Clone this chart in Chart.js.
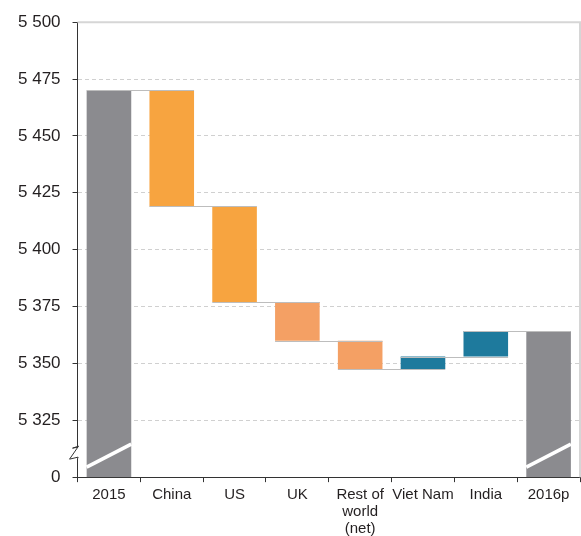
<!DOCTYPE html>
<html>
<head>
<meta charset="utf-8">
<script src="https://cdn.jsdelivr.net/npm/chart.js@4.4.1/dist/chart.umd.min.js"></script>
<style>
  html, body { margin: 0; padding: 0; background: #fff; }
  #wrap { width: 581px; height: 536px; }
</style>
</head>
<body>
<div id="wrap"><canvas id="chart"></canvas></div>
<script>
// waterfall: 2015 -> 2016p, broken y axis (bottom tick is 0)
const categories = ["2015", "China", "US", "UK", ["Rest of", "world", "(net)"], "Viet Nam", "India", "2016p"];
const barLow  = [5300, 5419, 5377, 5360, 5347.5, 5347.5, 5353, 5300];
const barHigh = [5470, 5470, 5419, 5377, 5360, 5353, 5364.3, 5364.3];
const barColors = ["#8b8b8f", "#f7a440", "#f7a440", "#f4a064", "#f4a064", "#1e7a9d", "#1e7a9d", "#8b8b8f"];
const yTicks = [5300, 5325, 5350, 5375, 5400, 5425, 5450, 5475, 5500];
const brokenBars = [0, 7];

function fmt(v) {
  if (v === 5300) return "0";
  const s = String(v);
  return s.slice(0, s.length - 3) + " " + s.slice(-3);
}

// connector lines, break marks on totals, zigzag on the axis, frame
const waterfallExtras = {
  id: "waterfallExtras",
  afterDatasetsDraw(chart) {
    const ctx = chart.ctx;
    const meta = chart.getDatasetMeta(0);
    const y = chart.scales.y;
    const area = chart.chartArea;
    ctx.save();

    // connectors
    ctx.strokeStyle = "#bdbdbd";
    ctx.lineWidth = 1.2;
    for (let i = 0; i < meta.data.length - 1; i++) {
      const a = meta.data[i], b = meta.data[i + 1];
      const lvl = (i === 0) ? barHigh[0] : (barHigh[i + 1] === barHigh[i] || barHigh[i + 1] === barLow[i] ? barHigh[i + 1] : barLow[i + 1]);
      const py = Math.round(y.getPixelForValue(lvl)) + 0.5;
      ctx.beginPath();
      ctx.moveTo(a.x - a.width / 2, py);
      ctx.lineTo(b.x + b.width / 2, py);
      ctx.stroke();
    }

    // white break lines through total bars
    ctx.strokeStyle = "#ffffff";
    ctx.lineWidth = 3.5;
    brokenBars.forEach((i) => {
      const el = meta.data[i];
      ctx.beginPath();
      ctx.moveTo(el.x - el.width / 2, area.bottom - 10);
      ctx.lineTo(el.x + el.width / 2, area.bottom - 33);
      ctx.stroke();
    });

    // axis break zigzag
    const x0 = area.left;
    ctx.fillStyle = "#ffffff";
    ctx.fillRect(x0 - 1.5, area.bottom - 30, 3, 11);
    ctx.strokeStyle = "#333333";
    ctx.lineWidth = 1;
    ctx.beginPath();
    ctx.moveTo(x0 + 0.5, area.bottom - 30);
    ctx.lineTo(x0 - 5, area.bottom - 29);
    ctx.lineTo(x0 + 1, area.bottom - 31);
    ctx.lineTo(x0 - 8, area.bottom - 18);
    ctx.lineTo(x0 + 0.5, area.bottom - 20);
    ctx.lineTo(x0 + 0.5, area.bottom - 19);
    ctx.stroke();

    // top and right frame
    ctx.strokeStyle = "#d6d6d6";
    ctx.lineWidth = 2;
    ctx.beginPath();
    ctx.moveTo(area.left, area.top);
    ctx.lineTo(area.right, area.top);
    ctx.lineTo(area.right, area.bottom);
    ctx.stroke();
    ctx.restore();
  },
};

new Chart(document.getElementById("chart"), {
  type: "bar",
  data: {
    labels: categories,
    datasets: [{
      data: barLow.map((lo, i) => [lo, barHigh[i]]),
      backgroundColor: barColors,
      borderWidth: 0,
      categoryPercentage: 1,
      barPercentage: 0.71,
    }],
  },
  options: {
    responsive: true,
    maintainAspectRatio: false,
    animation: false,
    devicePixelRatio: 1,
    layout: { padding: { left: 6, right: 1, top: 5, bottom: -5 } },
    plugins: { legend: { display: false }, tooltip: { enabled: false } },
    scales: {
      x: {
        grid: { display: true, drawOnChartArea: false, drawTicks: true, tickLength: 5, color: "#333", offset: true },
        border: { display: true, color: "#333", width: 1 },
        ticks: { color: "#231f20", font: { family: "Liberation Sans, Arial, sans-serif", size: 15, lineHeight: 1.13 }, padding: 4, maxRotation: 0, autoSkip: false },
      },
      y: {
        min: 5300,
        max: 5500,
        afterBuildTicks: (axis) => { axis.ticks = yTicks.map((v) => ({ value: v })); },
        grid: {
          color: (c) => (c.tick && (c.tick.value === 5300 || c.tick.value === 5500)) ? "rgba(0,0,0,0)" : "#d0d0d0",
          tickColor: "#333",
          tickLength: 5,
          lineWidth: 1,
        },
        border: { display: true, color: "#333", width: 1, dash: [4, 3] },
        ticks: { color: "#231f20", font: { family: "Liberation Sans, Arial, sans-serif", size: 17 }, padding: 12, callback: (v) => fmt(v) },
      },
    },
  },
  plugins: [waterfallExtras],
});
</script>
</body>
</html>
